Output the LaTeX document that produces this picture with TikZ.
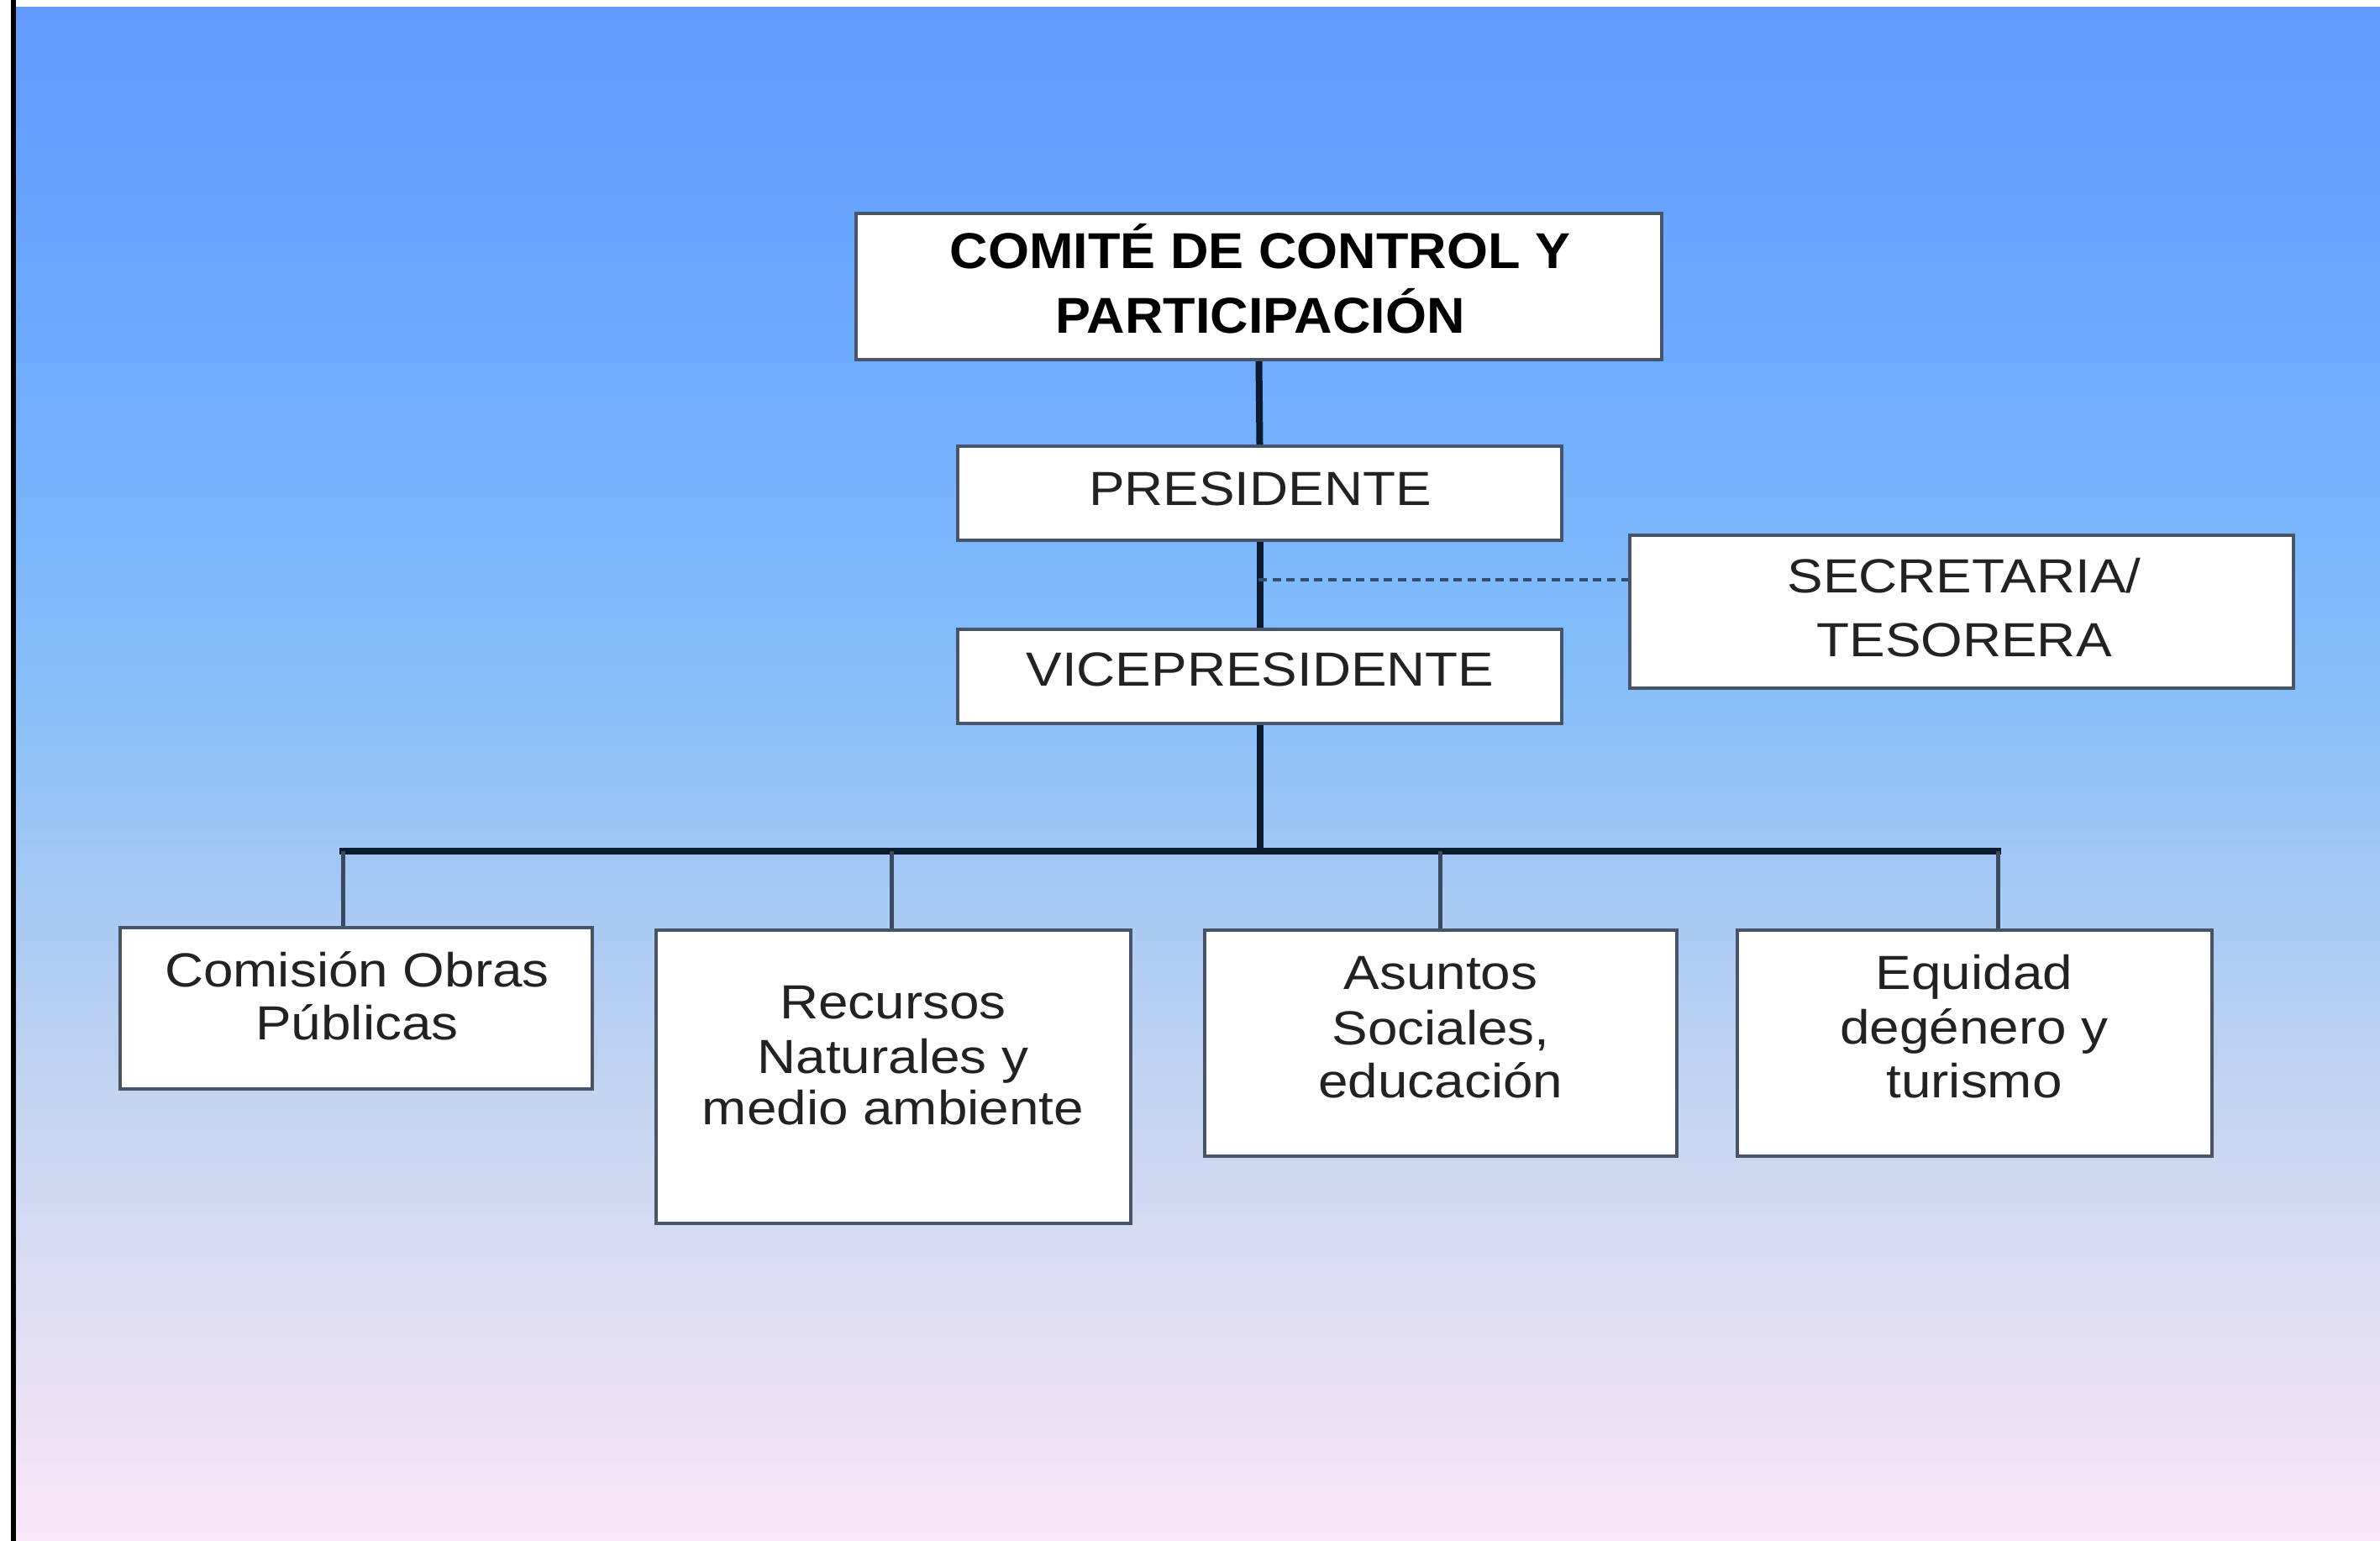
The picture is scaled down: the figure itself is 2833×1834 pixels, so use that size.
\documentclass[tikz,border=0pt]{standalone}
\usepackage{fontspec}
\setmainfont{Liberation Sans}[FakeStretch=1.12]
\newfontfamily\titlefont{Liberation Sans}[FakeStretch=1.05]
\usetikzlibrary{fit}
\definecolor{bgA}{HTML}{FAE7F8}
\definecolor{bgB}{HTML}{EDE2F5}
\definecolor{bgC}{HTML}{DEDDF3}
\definecolor{bgD}{HTML}{C3D5F0}
\definecolor{bgE}{HTML}{A4C8F4}
\definecolor{bgF}{HTML}{86BEFA}
\definecolor{bgG}{HTML}{6CAAFE}
\definecolor{bgH}{HTML}{619BFF}
\definecolor{boxline}{HTML}{485468}
\definecolor{trunkcol}{HTML}{0C1A2E}
\definecolor{dropcol}{HTML}{3A4A5E}
\definecolor{dotcol}{HTML}{2F4E74}
\definecolor{textcol}{HTML}{222222}
\pgfdeclareverticalshading{bgshade}{100bp}{color(0bp)=(bgA); color(25bp)=(bgA); color(28.7bp)=(bgB); color(32.8bp)=(bgC); color(39.6bp)=(bgD); color(46.5bp)=(bgE); color(53.3bp)=(bgF); color(64.3bp)=(bgG); color(75bp)=(bgH); color(100bp)=(bgH)}
\begin{document}
\begin{tikzpicture}[x=0.5pt,y=-0.5pt,
  box/.style={draw=boxline, line width=2pt, fill=white, inner sep=0pt},
  txt/.style={anchor=base, inner sep=0pt, text=textcol, font=\fontsize{28.5}{32}\selectfont},
  ttl/.style={anchor=base, inner sep=0pt, text=black, font=\titlefont\bfseries\fontsize{30}{34}\selectfont},
  trunk/.style={draw=trunkcol, line width=4pt},
  drop/.style={draw=dropcol, line width=2.5pt},
  dotline/.style={draw=dotcol, line width=2pt, dash pattern=on 5pt off 3.3pt}]
\useasboundingbox (0,0) rectangle (2833,1834);
\fill[white] (0,0) rectangle (2833,1834);
\shade[shading=bgshade] (19,9) rectangle (2833,1834);
\fill[black] (13,0) rectangle (19,1834);

% boxes
\node[box, fit={(1019,254) (1978,428)}] (comite) {};
\node[box, fit={(1140,531) (1859,643)}] (pres) {};
\node[box, fit={(1140,749) (1859,861)}] (vice) {};
\node[box, fit={(1940,637) (2730,819)}] (sec) {};
\node[box, fit={(143,1104) (705,1296)}] (obras) {};
\node[box, fit={(781,1107) (1346,1456)}] (recursos) {};
\node[box, fit={(1434,1107) (1996,1376)}] (asuntos) {};
\node[box, fit={(2068,1107) (2633,1376)}] (equidad) {};

% connectors
\coordinate (busL) at (408,1013);
\coordinate (busR) at (2378,1013);
\coordinate (d2) at (1061,1013);
\coordinate (d3) at (1714,1013);
\coordinate (dj) at (1498,690);
\draw[trunk] (comite.south) -- (pres.north);
\draw[trunk] (pres.south) -- (vice.north);
\draw[trunk] (vice.south) -- (vice.south |- busL);
\draw[trunk, line cap=rect] (busL) -- (busR);
\draw[drop] (busL) -- (busL |- obras.north);
\draw[drop] (d2) -- (d2 |- recursos.north);
\draw[drop] (d3) -- (d3 |- asuntos.north);
\draw[drop] (busR) -- (busR |- equidad.north);
\draw[dotline] (dj) -- (dj -| sec.west);

% texts
\node[ttl] (t1a) at (1500,320) {COMITÉ DE CONTROL Y};
\node[ttl] (t1b) at (1500,397) {PARTICIPACIÓN};
\node[txt] (t2) at (1500,602) {PRESIDENTE};
\node[txt] (t3) at (1500,816) {VICEPRESIDENTE};
\node[txt] (t4a) at (2338,705) {SECRETARIA/};
\node[txt] (t4b) at (2338,781) {TESORERA};
\node[txt] (t5a) at (425,1174) {Comisión Obras};
\node[txt] (t5b) at (425,1237) {Públicas};
\node[txt] (t6a) at (1063,1212) {Recursos};
\node[txt] (t6b) at (1063,1277) {Naturales y};
\node[txt] (t6c) at (1063,1338) {medio ambiente};
\node[txt] (t7a) at (1715,1177) {Asuntos};
\node[txt] (t7b) at (1715,1243) {Sociales,};
\node[txt] (t7c) at (1715,1306) {educación};
\node[txt] (t8a) at (2350,1177) {Equidad};
\node[txt] (t8b) at (2350,1242) {degénero y};
\node[txt] (t8c) at (2350,1306) {turismo};
\end{tikzpicture}
\end{document}
